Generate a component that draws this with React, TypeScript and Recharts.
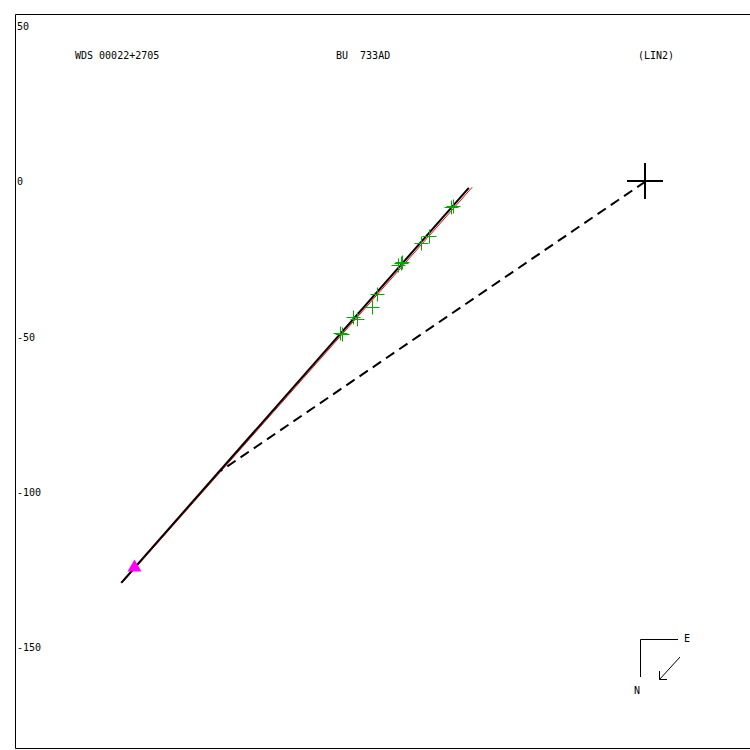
import React from "react";
import { ScatterChart, Scatter, XAxis, YAxis, ReferenceLine, ReferenceArea } from "recharts";

// plot units: arcsec-ish offsets, origin = primary star
const yTicks = [50, 0, -50, -100, -150];
const xDomain = [-203.23, 34.52];
const yDomain = [-182.9, 53.87];

const primary = [{ x: 0, y: 0 }];
const fitLine = [{ x: -169.13, y: -129.45 }, { x: -57.0, y: -2.03 }];
const orbitLine = [{ x: -168.7, y: -129.35 }, { x: -55.9, y: -1.84 }];
const nodeLine = [{ x: 0, y: 0 }, { x: -137.1, y: -93.4 }];
const firstObs = [{ x: -164.84, y: -124.19 }];
const observations = [
  { x: -61.94, y: -7.9 },
  { x: -62.9, y: -8.29 },
  { x: -69.9, y: -17.42 },
  { x: -72.58, y: -19.84 },
  { x: -78.39, y: -25.81 },
  { x: -79.03, y: -26.45 },
  { x: -79.68, y: -26.94 },
  { x: -86.55, y: -36.13 },
  { x: -88.16, y: -40.55 },
  { x: -93.0, y: -44.29 },
  { x: -94.29, y: -43.77 },
  { x: -97.84, y: -49.13 },
  { x: -98.39, y: -49.03 },
];

const font = "'DejaVu Sans Mono', monospace";

const Plus = (size: number, color: string, width: number) => (props: any) => {
  const off = width % 2 === 1 ? 0.5 : 0;
  const cx = Math.round(props.cx) + off;
  const cy = Math.round(props.cy) + off;
  return (
    <g stroke={color} strokeWidth={width}>
      <line x1={cx - size} x2={cx + size} y1={cy} y2={cy} />
      <line x1={cx} x2={cx} y1={cy - size} y2={cy + size} />
    </g>
  );
};

const Triangle = (props: any) => {
  const { cx, cy } = props;
  return <polygon points={`${cx},${cy - 7} ${cx - 7},${cy + 5} ${cx + 7},${cy + 5}`} fill="#ff00ff" />;
};

const YTick = (props: any) => (
  <text x={props.x + 1.5} y={props.y} dy={4} textAnchor="start" fontSize={10} fontFamily={font} fill="#000">
    {props.payload.value}
  </text>
);

export default function App() {
  return (
    <div style={{ position: "fixed", left: 0, top: 0, width: 750, height: 750, overflow: "hidden", background: "#fff" }}>
      <ScatterChart width={760} height={750} margin={{ top: 14.5, right: 7.5, bottom: 1.5, left: 0 }}>
        <XAxis type="number" dataKey="x" domain={xDomain} allowDataOverflow hide />
        <YAxis
          type="number"
          dataKey="y"
          domain={yDomain}
          ticks={yTicks}
          allowDataOverflow
          width={15.5}
          tickSize={0}
          tickMargin={0}
          axisLine={false}
          tickLine={false}
          tick={<YTick />}
        />
        <ReferenceArea x1={xDomain[0]} x2={xDomain[1]} y1={yDomain[0]} y2={yDomain[1]} fill="none" stroke="#000" strokeWidth={1} />
        <ReferenceLine segment={orbitLine} stroke="#ff0000" strokeWidth={1} ifOverflow="visible" />
        <ReferenceLine segment={fitLine} stroke="#000" strokeWidth={2} ifOverflow="visible" />
        <ReferenceLine segment={nodeLine} stroke="#000" strokeWidth={2} strokeDasharray="10 6" ifOverflow="visible" />
        <Scatter data={observations} shape={Plus(7, "#00aa00", 1)} isAnimationActive={false} />
        <Scatter data={firstObs} shape={Triangle} isAnimationActive={false} />
        <Scatter data={primary} shape={Plus(18, "#000", 2)} isAnimationActive={false} />
      </ScatterChart>
      <svg width={750} height={750} style={{ position: "absolute", left: 0, top: 0, pointerEvents: "none" }}>
        <g fontFamily={font} fontSize={10} fill="#000">
          <text x={75} y={59}>WDS 00022+2705</text>
          <text x={336} y={59} xmlSpace="preserve">BU  733AD</text>
          <text x={638} y={59}>(LIN2)</text>
          <text x={684} y={642}>E</text>
          <text x={634} y={694}>N</text>
        </g>
        <g stroke="#000" strokeWidth={1} fill="none">
          <polyline points="678,639.5 640.5,639.5 640.5,677" />
          <line x1={680} y1={657} x2={659.5} y2={679.5} />
          <polyline points="659.5,671 659.5,679.5 667,679.5" />
        </g>
      </svg>
    </div>
  );
}
